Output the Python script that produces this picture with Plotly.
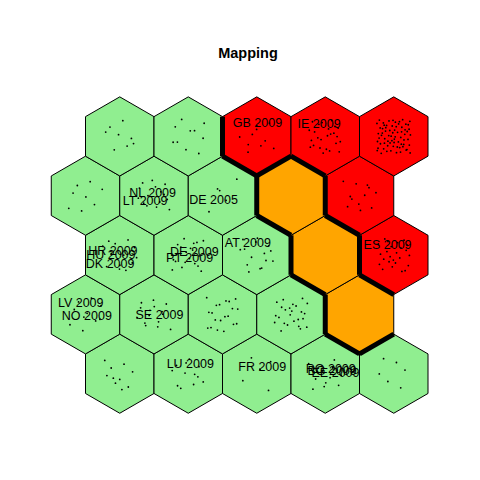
import math
import plotly.graph_objects as go

# ---- data ----
XDIM, YDIM = 5, 5
# cluster per unit, rows from bottom (row 1) to top (row 5), columns left->right
clusters = [
    [1, 1, 1, 1, 1],   # row 1
    [1, 1, 1, 1, 3],   # row 2
    [1, 1, 1, 3, 2],   # row 3
    [1, 1, 1, 3, 2],   # row 4
    [1, 1, 2, 2, 2],   # row 5
]
cluster_colors = {1: "#90EE90", 2: "#FF0000", 3: "#FFA500"}
# number of observations mapped to each unit
counts = [
    [10, 12, 5, 12, 6],
    [10, 15, 20, 25, 0],
    [15, 20, 15, 0, 25],
    [8, 15, 5, 0, 12],
    [8, 10, 10, 25, 70],
]
# labelled observations: (label, row, column, jitter dx, jitter dy)
label_text = ["GB 2009", "IE 2009", "NL 2009", "LT 2009", "DE 2005", "HR 2009", "HU 2009",
              "DK 2009", "DE 2009", "PT 2009", "AT 2009", "ES 2009", "LV 2009", "NO 2009",
              "SE 2009", "LU 2009", "FR 2009", "RO 2009", "BG 2009", "EE 2009"]
label_row = [5, 5, 4, 4, 4, 3, 3, 3, 3, 3, 3, 3, 2, 2, 2, 1, 1, 1, 1, 1]
label_col = [3, 4, 2, 2, 3, 1, 1, 1, 2, 2, 3, 5, 1, 1, 2, 2, 3, 4, 4, 4]
label_jx = [0.01, -0.09, -0.02, -0.13, -0.13, -0.10, -0.13, -0.14, 0.09, 0.02, -0.13, -0.09,
            -0.07, 0.02, 0.08, 0.03, 0.08, 0.08, 0.10, 0.15]
label_jy = [0.18, 0.17, 0.03, -0.09, -0.07, 0.05, -0.01, -0.15, 0.03, -0.06, 0.17, 0.14,
            0.15, -0.03, -0.02, 0.13, 0.09, 0.06, 0.03, 0.00]

# ---- grid geometry (kohonen hexagonal grid) ----
R = 1 / math.sqrt(3)


def unit_xy(row, col):
    x = col + (0.5 if row % 2 == 1 else 0.0)
    y = row * math.sqrt(3) / 2
    return x, y


def halton(i, base):
    f, res = 1.0, 0.0
    while i > 0:
        f /= base
        res += f * (i % base)
        i //= base
    return res


fig = go.Figure()

# hexagons
for r in range(1, YDIM + 1):
    for c in range(1, XDIM + 1):
        cx, cy = unit_xy(r, c)
        xs, ys = [], []
        for k in range(7):
            a = math.radians(90 + 60 * k)
            xs.append(cx + R * math.cos(a))
            ys.append(cy + R * math.sin(a))
        fig.add_trace(go.Scatter(x=xs, y=ys, mode="lines", fill="toself",
                                 fillcolor=cluster_colors[clusters[r - 1][c - 1]],
                                 line=dict(color="black", width=1),
                                 hoverinfo="skip", showlegend=False))

# observation points (deterministic low-discrepancy spread inside each unit)
px, py = [], []
idx = 1
for r in range(1, YDIM + 1):
    for c in range(1, XDIM + 1):
        n = counts[r - 1][c - 1]
        cx, cy = unit_xy(r, c)
        for i in range(n):
            u = halton(idx, 2)
            v = halton(idx, 3)
            idx += 1
            px.append(cx + (u - 0.5) * 0.5)
            py.append(cy + (v - 0.5) * 0.5)
fig.add_trace(go.Scatter(x=px, y=py, mode="markers",
                         marker=dict(color="black", size=1.8),
                         hoverinfo="skip", showlegend=False))

# cluster boundaries
bx, by = [], []
units = [(r, c) for r in range(1, YDIM + 1) for c in range(1, XDIM + 1)]
for i, (r1, c1) in enumerate(units):
    for (r2, c2) in units[i + 1:]:
        x1, y1 = unit_xy(r1, c1)
        x2, y2 = unit_xy(r2, c2)
        d = math.hypot(x2 - x1, y2 - y1)
        if abs(d - 1) < 1e-6 and clusters[r1 - 1][c1 - 1] != clusters[r2 - 1][c2 - 1]:
            mx, my = (x1 + x2) / 2, (y1 + y2) / 2
            ux, uy = -(y2 - y1) / d, (x2 - x1) / d
            h = R / 2
            bx += [mx - ux * h, mx + ux * h, None]
            by += [my - uy * h, my + uy * h, None]
fig.add_trace(go.Scatter(x=bx, y=by, mode="lines",
                         line=dict(color="black", width=5),
                         hoverinfo="skip", showlegend=False))

# labels
lx, ly = [], []
for t, r, c, jx, jy in zip(label_text, label_row, label_col, label_jx, label_jy):
    cx, cy = unit_xy(r, c)
    lx.append(cx + jx)
    ly.append(cy + jy)
fig.add_trace(go.Scatter(x=lx, y=ly, mode="text", text=label_text,
                         textfont=dict(family="Liberation Sans, Arial", size=12.5, color="black"),
                         hoverinfo="skip", showlegend=False))

OFF = 8  # page body margin in pixels
fig.update_layout(
    width=480, height=480,
    margin=dict(l=0, r=0, t=0, b=0),
    paper_bgcolor="white", plot_bgcolor="white",
    title=dict(text="<b>Mapping</b>", x=0.5, xanchor="center", y=1 - (53 - OFF) / 480,
               yanchor="middle",
               font=dict(family="Liberation Sans, Arial", size=14.5, color="black")),
    xaxis=dict(range=[(OFF - 17) / 68.5, (480 + OFF - 17) / 68.5], visible=False, fixedrange=True),
    yaxis=dict(range=[0.866 - (480 + OFF - 373.7) / 68.5, 0.866 + (373.7 - OFF) / 68.5],
               visible=False, fixedrange=True),
)

fig.write_html("out.html")
